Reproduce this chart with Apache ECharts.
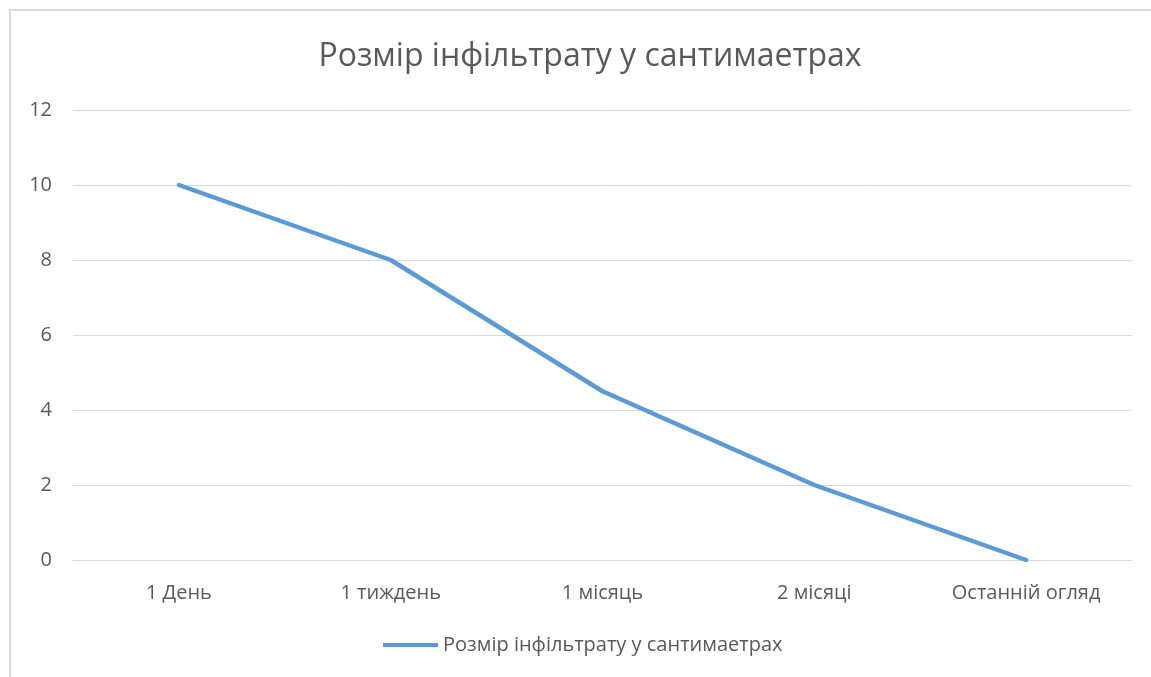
<!DOCTYPE html>
<html><head><meta charset="utf-8">
<script src="https://cdn.jsdelivr.net/npm/echarts@6/dist/echarts.min.js"></script>
<style>
html,body{margin:0;padding:0;background:#fff;}
#frame{position:absolute;left:9px;top:9px;width:1200px;height:700px;border-left:2px solid #d9d9d9;border-top:2px solid #d9d9d9;}
#c{position:absolute;left:0;top:0;width:1151px;height:677px;}
</style></head>
<body>
<div id="frame"></div>
<div id="c"></div>
<script>
const titleText = 'Розмір інфільтрату у сантимаетрах';
const seriesName = 'Розмір інфільтрату у сантимаетрах';
const categories = ['1 День', '1 тиждень', '1 місяць', '2 місяці', 'Останній огляд'];
const values = [10, 8, 4.5, 2, 0];
const FONT = '"Open Sans", "Noto Sans", sans-serif';
const chart = echarts.init(document.getElementById('c'), null, {renderer:'canvas'});
chart.setOption({
  animation:false,
  backgroundColor:'transparent',
  title:{text:titleText,left:585,textAlign:'center',top:36,textStyle:{fontFamily:FONT,fontSize:32,fontWeight:'normal',color:'#595959'}},
  grid:{left:73,right:19,top:110,bottom:117,containLabel:false},
  legend:{bottom:17,left:378,itemWidth:55,itemHeight:4,icon:'rect',itemGap:10,
    textStyle:{fontFamily:FONT,fontSize:20,color:'#595959',padding:[0,0,0,0]},data:[seriesName]},
  xAxis:{type:'category',data:categories,boundaryGap:true,
    axisLine:{show:true,lineStyle:{color:'#d9d9d9',width:1}},axisTick:{show:false},
    axisLabel:{fontFamily:FONT,fontSize:20,color:'#595959',margin:23}},
  yAxis:{type:'value',min:0,max:12,interval:2,
    axisLine:{show:false},axisTick:{show:false},
    splitLine:{lineStyle:{color:'#d9d9d9',width:1}},
    axisLabel:{fontFamily:FONT,fontSize:20,color:'#595959',margin:21}},
  series:[{name:seriesName,type:'line',data:values,symbol:'none',
    lineStyle:{color:'#5b9bd5',width:4.5,cap:'round',join:'round'},itemStyle:{color:'#5b9bd5'}}]
});
</script>
</body></html>
